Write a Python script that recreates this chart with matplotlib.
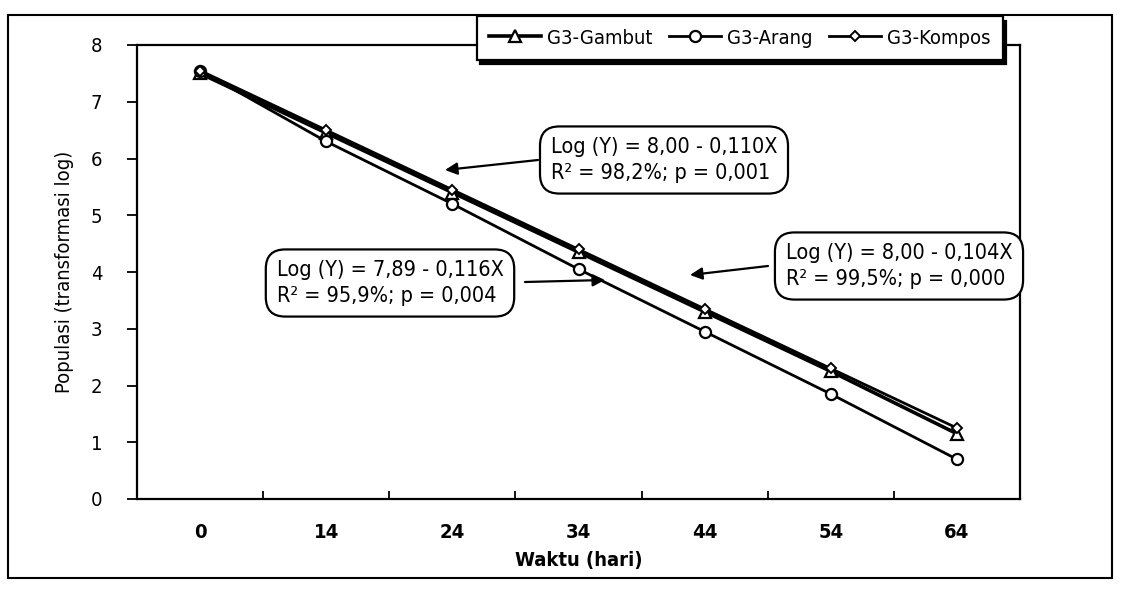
import matplotlib
matplotlib.use("Agg")
import matplotlib.pyplot as plt
from matplotlib.patches import Rectangle

days = ["0", "14", "24", "34", "44", "54", "64"]
gambut = [7.50, 6.45, 5.40, 4.35, 3.30, 2.25, 1.15]
arang = [7.55, 6.30, 5.20, 4.05, 2.95, 1.85, 0.70]
kompos = [7.55, 6.50, 5.45, 4.40, 3.35, 2.30, 1.25]
series_names = ["G3-Gambut", "G3-Arang", "G3-Kompos"]
eq_texts = [
    "Log (Y) = 8,00 - 0,110X\nR² = 98,2%; p = 0,001",
    "Log (Y) = 7,89 - 0,116X\nR² = 95,9%; p = 0,004",
    "Log (Y) = 8,00 - 0,104X\nR² = 99,5%; p = 0,000",
]

W, H = 1125, 599
fig = plt.figure(figsize=(W / 100, H / 100), dpi=100)
FONT = dict(family="DejaVu Sans", stretch="condensed")


def fx(px):
    return px / W


def fy(py):
    return 1 - py / H


left, right, top, bottom = 137, 1020, 45, 499
ax = fig.add_axes([fx(left), fy(bottom), fx(right) - fx(left), fy(top) - fy(bottom)])

x = list(range(len(days)))
ax.plot(x, gambut, color="black", lw=2.6, marker="^", ms=8, mfc="white", mec="black", mew=1.6,
        label=series_names[0], zorder=3)
ax.plot(x, arang, color="black", lw=2.0, marker="o", ms=8, mfc="white", mec="black", mew=1.6,
        label=series_names[1], zorder=3)
ax.plot(x, kompos, color="black", lw=2.0, marker="D", ms=5, mfc="white", mec="black", mew=1.4,
        label=series_names[2], zorder=4)

ax.set_xlim(-0.5, len(days) - 0.5)
ax.set_ylim(0, 8)
ax.set_yticks(range(0, 9))
ax.set_xticks(x)
ax.set_xticklabels(days, fontsize=14.5, fontweight="bold", **FONT)
ax.set_xticks([i + 0.5 for i in range(len(days) - 1)], minor=True)
ax.tick_params(axis="x", which="major", length=0, pad=17)
ax.tick_params(axis="x", which="minor", direction="in", length=6, width=1.3)
ax.tick_params(axis="y", direction="out", length=7, width=1.3, pad=18, labelsize=14.5)
for lab in ax.get_yticklabels():
    lab.set_fontfamily("DejaVu Sans")
    lab.set_fontstretch("condensed")
for s in ax.spines.values():
    s.set_linewidth(1.6)
    s.set_color("black")

ax.set_xlabel("Waktu (hari)", fontsize=14.5, fontweight="bold", labelpad=7, **FONT)
ax.set_ylabel("Populasi (transformasi log)", fontsize=14.5, labelpad=12, **FONT)

leg = ax.legend(loc="center", bbox_to_anchor=(fx(740), fy(38)), bbox_transform=fig.transFigure,
                ncol=3, frameon=True, fancybox=False, handlelength=2.6, columnspacing=0.8,
                handletextpad=0.3, borderpad=0.6, prop=dict(size=14.5, **FONT),
                shadow={"color": "black", "alpha": 1.0, "ox": 2.5, "oy": -3})
leg.get_frame().set_edgecolor("black")
leg.get_frame().set_linewidth(1.6)

box = dict(boxstyle="round,pad=0.5,rounding_size=0.9", fc="white", ec="black", lw=1.6)
arrow = dict(arrowstyle="-|>", color="black", lw=1.6, mutation_scale=18, shrinkA=0, shrinkB=0)

# annotation boxes: (text center px, arrow tail px, arrow head px)
ann = [
    ((664, 160), (538, 160), (445, 170)),
    ((390, 283), (525, 282), (605, 280)),
    ((899, 266), (768, 266), (690, 275)),
]
for txt, (c, tail, head) in zip(eq_texts, ann):
    fig.text(fx(c[0]), fy(c[1]), txt, ha="center", va="center", fontsize=15.5,
             multialignment="left", linespacing=1.35, bbox=box, zorder=6, **FONT)
    ax.annotate("", xy=(fx(head[0]), fy(head[1])), xycoords="figure fraction",
                xytext=(fx(tail[0]), fy(tail[1])), textcoords="figure fraction",
                arrowprops=arrow, zorder=5)

fig.patches.append(Rectangle((fx(8), fy(578)), fx(1112) - fx(8), fy(15) - fy(578),
                             transform=fig.transFigure, fill=False, ec="black", lw=1.5))

fig.savefig("out.png", dpi=100)
